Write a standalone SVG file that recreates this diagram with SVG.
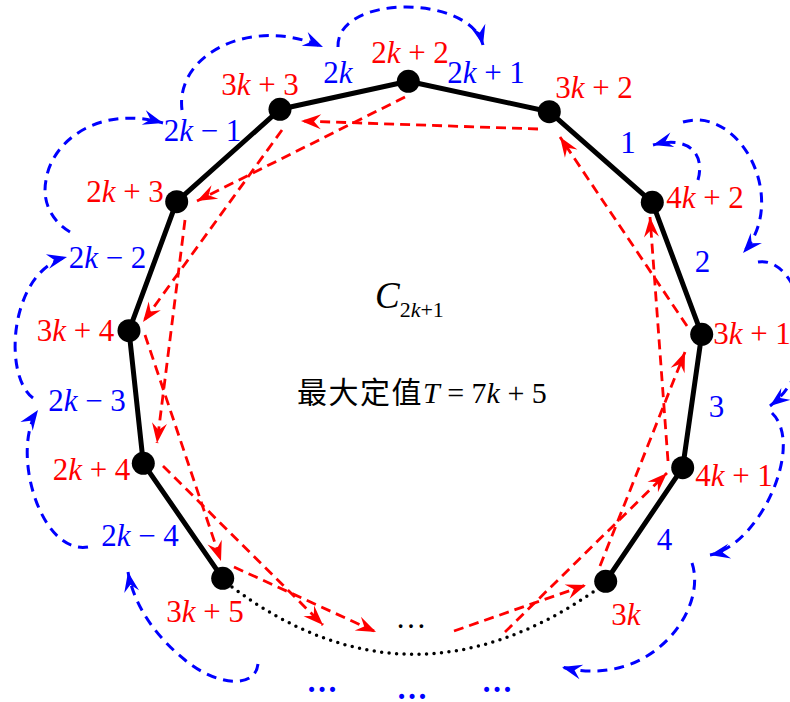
<svg xmlns="http://www.w3.org/2000/svg" width="790" height="702" viewBox="0 0 790 702">
<defs>
<style>
.edge{fill:none;stroke:#000;stroke-width:5;stroke-linejoin:round}
.dot{fill:none;stroke:#000;stroke-width:3.5;stroke-linecap:round;stroke-dasharray:0 7.5}
.red{fill:none;stroke:#f00;stroke-width:2.8;stroke-dasharray:10 6;marker-end:url(#ar)}
.blue{fill:none;stroke:#00f;stroke-width:3;stroke-dasharray:10 7;marker-end:url(#ab)}
.node{fill:#000}
.lbl{font-size:31px;text-anchor:middle}
.r{fill:#f00}
.b{fill:#00f}
.i{font-style:italic}
</style>
<marker id="ar" markerUnits="userSpaceOnUse" markerWidth="24" markerHeight="22" viewBox="-22 -11 24 22" refX="0" refY="0" orient="auto" overflow="visible">
<path d="M0,0 L-20,-7.5 L-13,0 L-20,7.5 Z" fill="#f00"/>
</marker>
<marker id="ab" markerUnits="userSpaceOnUse" markerWidth="24" markerHeight="22" viewBox="-22 -11 24 22" refX="0" refY="0" orient="auto" overflow="visible">
<path d="M0,0 L-20,-7.5 L-13,0 L-20,7.5 Z" fill="#00f"/>
</marker>
</defs>
<rect width="790" height="702" fill="#fff"/>

<g id="connectors">
<polyline class="edge" points="222.7,578.3 143.3,463.3 129,330.7 176.7,201.7 280,109.3 408.3,81.3 549.3,111.7 652.3,202.3 701.7,334.3 682.7,467.7 605.7,581.3"/>
<path class="dot" d="M232,587 Q410,720 596,590"/>
<g id="red-arrows">
<path class="red" d="M538,129 L301,121"/>
<path class="red" d="M405,97 L197,201"/>
<path class="red" d="M282,130 L143,322"/>
<path class="red" d="M185,220 L157,443"/>
<path class="red" d="M145,335 L221,561"/>
<path class="red" d="M163,466 L323,625"/>
<path class="red" d="M234,567 L376,632"/>
<path class="red" d="M454,631 L586,585"/>
<path class="red" d="M505,632 L667,473"/>
<path class="red" d="M600,566 L685,352"/>
<path class="red" d="M668,461 L650,217"/>
<path class="red" d="M687,326 L560,137"/>
</g>
<g id="blue-arcs">
<path class="blue" d="M338,47 C336,-6 470,-6 483,45"/>
<path class="blue" d="M182,110 C175,55 250,15 323,47"/>
<path class="blue" d="M70,232 C50,220 42,200 46,180 C52,140 100,105 163,123"/>
<path class="blue" d="M33,398 C2,375 10,270 67,257"/>
<path class="blue" d="M88,547 C40,555 10,450 38,410"/>
<path class="blue" d="M258,664 C255,690 215,685 185,660 C160,640 135,610 128,572"/>
<path class="blue" d="M698,180 C705,155 690,135 653,145"/>
<path class="blue" d="M683,122 C740,105 790,200 743,253"/>
<path class="blue" d="M758,262 C800,255 830,360 770,406"/>
<path class="blue" d="M772,413 C805,445 760,545 710,555"/>
<path class="blue" d="M692,563 C708,610 650,690 562,667"/>
</g>
</g>

<g id="nodes" font-family="Liberation Serif, Times New Roman, serif">
<g id="n-2k2"><circle class="node" cx="408.3" cy="81.3" r="11.5"/><text class="lbl r" x="410" y="63">2<tspan class="i">k</tspan> + 2</text></g>
<g id="n-3k3"><circle class="node" cx="280" cy="109.3" r="11.5"/><text class="lbl r" x="260" y="95">3<tspan class="i">k</tspan> + 3</text></g>
<g id="n-3k2"><circle class="node" cx="549.3" cy="111.7" r="11.5"/><text class="lbl r" x="594" y="98">3<tspan class="i">k</tspan> + 2</text></g>
<g id="n-2k3"><circle class="node" cx="176.7" cy="201.7" r="11.5"/><text class="lbl r" x="125" y="202">2<tspan class="i">k</tspan> + 3</text></g>
<g id="n-4k2"><circle class="node" cx="652.3" cy="202.3" r="11.5"/><text class="lbl r" x="705" y="208">4<tspan class="i">k</tspan> + 2</text></g>
<g id="n-3k4"><circle class="node" cx="129" cy="330.7" r="11.5"/><text class="lbl r" x="75.5" y="341">3<tspan class="i">k</tspan> + 4</text></g>
<g id="n-3k1"><circle class="node" cx="701.7" cy="334.3" r="11.5"/><text class="lbl r" x="752" y="344">3<tspan class="i">k</tspan> + 1</text></g>
<g id="n-2k4"><circle class="node" cx="143.3" cy="463.3" r="11.5"/><text class="lbl r" x="91.5" y="480">2<tspan class="i">k</tspan> + 4</text></g>
<g id="n-4k1"><circle class="node" cx="682.7" cy="467.7" r="11.5"/><text class="lbl r" x="734" y="486">4<tspan class="i">k</tspan> + 1</text></g>
<g id="n-3k5"><circle class="node" cx="222.7" cy="578.3" r="11.5"/><text class="lbl r" x="205" y="622">3<tspan class="i">k</tspan> + 5</text></g>
<g id="n-3k"><circle class="node" cx="605.7" cy="581.3" r="11.5"/><text class="lbl r" x="626" y="625">3<tspan class="i">k</tspan></text></g>
</g>

<g id="edge-labels" font-family="Liberation Serif, Times New Roman, serif">
<text class="lbl b" x="338" y="83">2<tspan class="i">k</tspan></text>
<text class="lbl b" x="486" y="83">2<tspan class="i">k</tspan> + 1</text>
<text class="lbl b" x="202.5" y="141">2<tspan class="i">k</tspan> − 1</text>
<text class="lbl b" x="107.5" y="268">2<tspan class="i">k</tspan> − 2</text>
<text class="lbl b" x="87" y="411">2<tspan class="i">k</tspan> − 3</text>
<text class="lbl b" x="140" y="546">2<tspan class="i">k</tspan> − 4</text>
<text class="lbl b" x="628" y="153">1</text>
<text class="lbl b" x="702.5" y="272">2</text>
<text class="lbl b" x="716.5" y="417">3</text>
<text class="lbl b" x="664.5" y="550">4</text>
<text class="lbl b" x="322" y="692" font-weight="bold">…</text>
<text class="lbl b" x="412" y="699" font-weight="bold">…</text>
<text class="lbl b" x="497" y="692" font-weight="bold">…</text>
<text class="lbl" x="411" y="628" fill="#000">…</text>
</g>

<g id="center" font-family="Liberation Serif, Times New Roman, serif">
<text x="375" y="308" font-size="37" fill="#000"><tspan font-style="italic">C</tspan><tspan font-size="22" dy="9">2<tspan font-style="italic">k</tspan>+1</tspan></text>
<text x="297" y="403" font-size="30" fill="#000"><tspan font-family="Noto Sans CJK SC, sans-serif" letter-spacing="1.5">最大定值</tspan><tspan font-style="italic">T</tspan><tspan> = 7<tspan font-style="italic">k</tspan> + 5</tspan></text>
</g>
</svg>
